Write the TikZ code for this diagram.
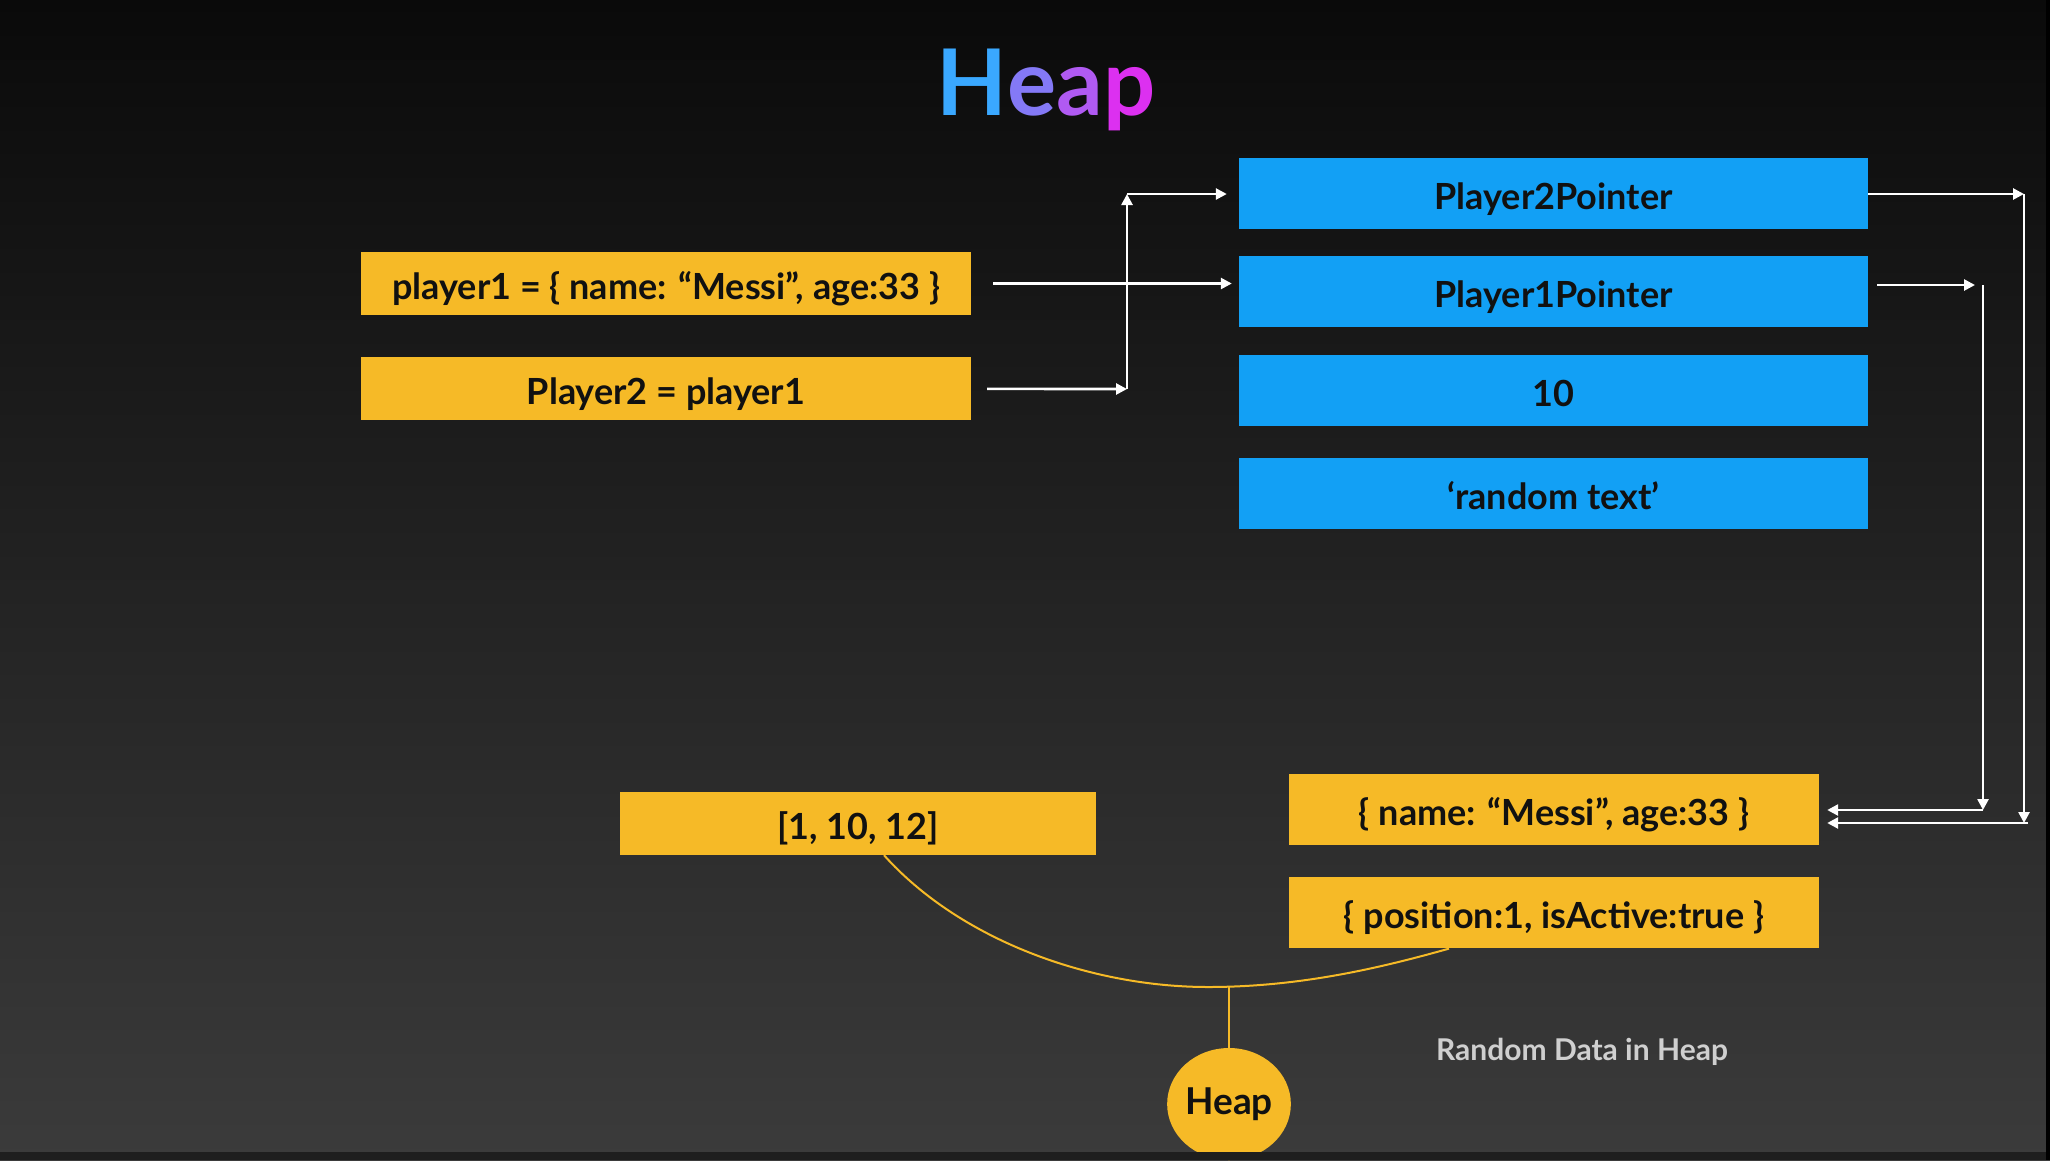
\documentclass[tikz,border=0pt]{standalone}
\usepackage{fontspec}
\setmainfont{Lato}
\usepackage{xcolor}
\usepackage{tikz}
\usetikzlibrary{arrows.meta,positioning,calc,shapes.geometric}
\definecolor{bgtop}{HTML}{0A0A0A}
\definecolor{bgbot}{HTML}{3B3B3B}
\definecolor{edge}{HTML}{1E1E1E}
\definecolor{gold}{HTML}{F6BA27}
\definecolor{sky}{HTML}{12A0F5}
\definecolor{ink}{HTML}{111111}
\definecolor{mist}{HTML}{CFCFCF}
\definecolor{titleA}{HTML}{3AA8FF}
\definecolor{titleB}{HTML}{8479F6}
\definecolor{titleC}{HTML}{B05AF2}
\definecolor{titleD}{HTML}{DC30F0}
\tikzset{
  varbox/.style={
    draw=none,fill=gold,inner sep=0pt,
    minimum width=610pt,minimum height=63pt,
    text height=36pt,text depth=4pt,
    text=ink,font=\fontsize{36}{42}\selectfont\bfseries
  },
  ptrbox/.style={
    draw=none,fill=sky,inner sep=0pt,
    minimum width=629pt,minimum height=71pt,
    text height=36pt,text depth=4pt,
    text=ink,font=\fontsize{36}{42}\selectfont\bfseries
  },
  objbox/.style={
    draw=none,fill=gold,inner sep=0pt,
    minimum width=530pt,minimum height=71pt,
    text height=36pt,text depth=4pt,
    text=ink,font=\fontsize{36}{42}\selectfont\bfseries
  },
  heapnode/.style={
    ellipse,fill=gold,inner sep=0pt,
    minimum width=123pt,minimum height=112pt,
    text=ink,font=\fontsize{37}{42}\selectfont\bfseries
  },
  arrow/.style={-{Triangle[length=11pt,width=11pt]},draw=white,line width=2.6pt},
  link/.style={draw=gold,line width=2pt}
}

\begin{document}
\begin{tikzpicture}[x=1pt,y=-1pt]
\shade[top color=bgtop,bottom color=bgbot] (0,0) rectangle (2050,1160);
\useasboundingbox (0,0) rectangle (2050,1160);

\node[anchor=base,font=\fontsize{92}{100}\selectfont\bfseries] (title) at (1046,115)
{\textcolor{titleA}{H}\textcolor{titleB}{e}\textcolor{titleC}{a}\textcolor{titleD}{p}};

% variables on the left
\node[varbox] (p1var) at (666,283.5) {player1 = \{ name: “Messi”, age:33 \}};
\node[varbox,below=42pt of p1var] (p2var) {Player2 = player1};

% pointer stack
\node[ptrbox] (p2ptr) at (1553.5,193.5) {Player2Pointer};
\node[ptrbox,below=27pt of p2ptr] (p1ptr) {Player1Pointer};
\node[ptrbox,below=27pt of p1ptr] (num) {10};
\node[ptrbox,below=32pt of num] (txt) {‘random text’};

% heap objects
\node[varbox,minimum width=476pt] (arr) at (858,823.5) {[1, 10, 12]};
\node[objbox] (objmessi) at (1554,809.5) {\{ name: “Messi”, age:33 \}};
\node[objbox,below=32pt of objmessi] (objpos) {\{ position:1, isActive:true \}};

\node[heapnode] (heap) at (1229,1104) {Heap};
\node[text=mist,font=\fontsize{30}{36}\selectfont\bfseries] (note) at (1582,1052)
{Random Data in Heap};

% stack -> pointers
\coordinate (jn) at (1127,389);
\coordinate (jt) at (1127,194);
\draw[arrow] ([xshift=22pt]p1var.east) -- ([xshift=-7pt]p1var.east -| p1ptr.west);
\draw[arrow] ([xshift=16pt]p2var.east) -- (jn);
\draw[arrow] (jn) -- (jt);
\draw[arrow] (jt) -- ([xshift=-12pt]jt -| p2ptr.west);

% pointers -> object
\coordinate (r2a) at (2024,194);
\coordinate (r2b) at (2024,823);
\coordinate (r1a) at (1983,285);
\coordinate (r1b) at (1983,810);
\draw[arrow] (p2ptr.east |- r2a) -- (r2a);
\draw[arrow] (r2a) -- (r2b);
\draw[arrow] ([xshift=4pt]r2b) -- ([xshift=8pt]r2b -| objmessi.east);
\draw[arrow] ([xshift=9pt]p1ptr.east |- r1a) -- ([xshift=-8pt]r1a);
\draw[arrow] (r1a) -- (r1b);
\draw[arrow] (r1b) -- ([xshift=8pt]r1b -| objmessi.east);

% brace curve to heap
\coordinate (cl) at ([xshift=26pt]arr.south);
\coordinate (cr) at ([xshift=-105pt]objpos.south);
\coordinate (bot) at (1208,987);
\coordinate (join) at (1229,987);
\draw[link] (cl) .. controls (960,940) and (1090,987) .. (bot)
  .. controls (1300,987) and (1380,968) .. (cr);
\draw[link] (join) -- (heap);

\fill[edge] (0,1152) rectangle (2050,1160);
\fill[black] (2046,0) rectangle (2050,1160);
\end{tikzpicture}
\end{document}
